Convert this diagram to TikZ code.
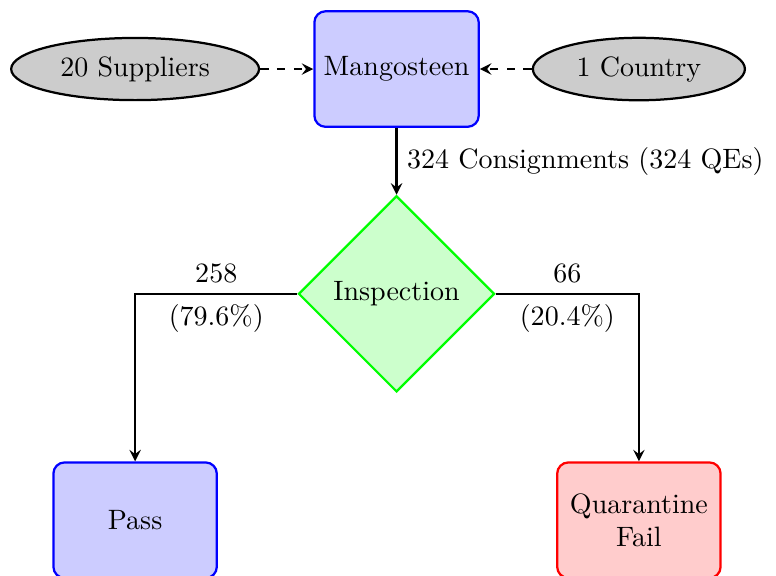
\documentclass[tikz,border=0pt]{standalone}
\usepackage{tikz}
\usetikzlibrary{shapes.geometric,arrows}

\tikzset{
  block/.style={rectangle, rounded corners, draw=blue, thick, fill=blue!20,
    minimum width=2.05cm, minimum height=1.45cm, align=center},
  failblock/.style={block, draw=red, fill=red!20},
  source/.style={ellipse, draw, thick, fill=gray!40, minimum height=0.78cm},
  decision/.style={diamond, draw=green, thick, fill=green!20,
    inner sep=1pt, minimum width=2.46cm, minimum height=2.46cm},
  line/.style={draw, thick, -stealth},
  dline/.style={line, dashed}
}

\begin{document}
\begin{tikzpicture}
  \useasboundingbox (-4.975,0.866) rectangle (4.76,-6.35);

  \node[block] (mango) at (0,0) {Mangosteen};
  \node[source, minimum width=3.11cm] (suppliers) at (-3.28,0) {20 Suppliers};
  \node[source, minimum width=2.66cm] (country) at (3.04,0) {1 Country};

  \node[decision] (insp) at (0,-2.82) {Inspection};

  \node[block] (pass) at (-3.28,-5.66) {Pass};
  \node[failblock] (fail) at (3.04,-5.66) {Quarantine\\Fail};

  \path[dline] (suppliers) -- (mango);
  \path[dline] (country) -- (mango);
  \path[line] (mango) -- node[right] {324 Consignments (324 QEs)} (insp);
  \path[line] (insp.west) -| node[pos=0.25,above] {258}
    node[pos=0.25,below] {(79.6\%)} (pass.north);
  \path[line] (insp.east) -| node[pos=0.25,above] {66}
    node[pos=0.25,below] {(20.4\%)} (fail.north);
\end{tikzpicture}
\end{document}
